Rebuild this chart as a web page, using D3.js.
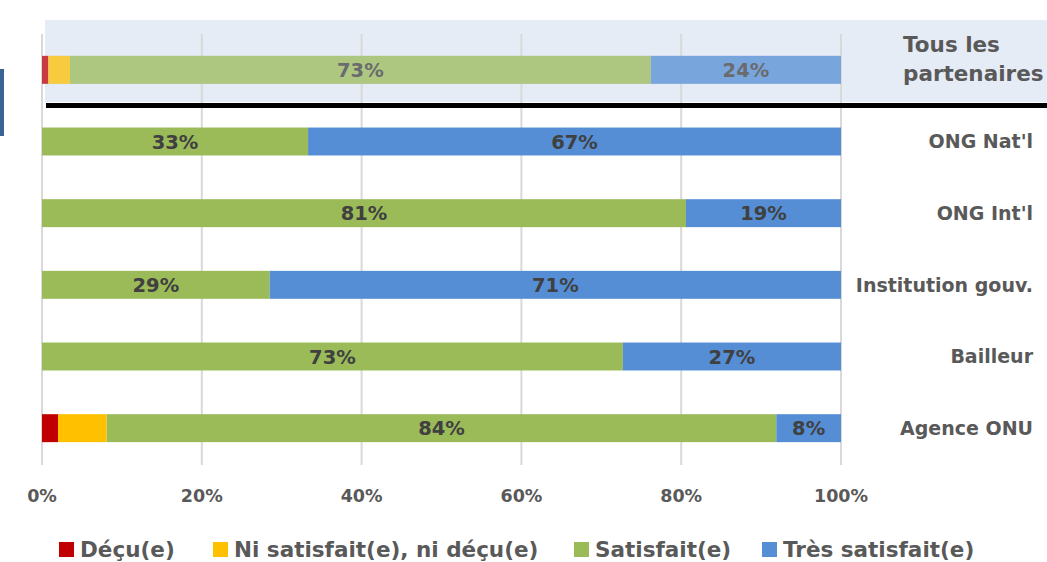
<!DOCTYPE html>
<html>
<head>
<meta charset="utf-8">
<script src="https://cdn.jsdelivr.net/npm/d3@7"></script>
<style>
  body { margin: 0; background: #fff; }
  text { font-family: "DejaVu Sans", sans-serif; font-weight: 700; }
</style>
</head>
<body>
<div class="chart"></div>
<script>
// data
var categories = ["Tous les partenaires", "ONG Nat'l", "ONG Int'l", "Institution gouv.", "Bailleur", "Agence ONU"];
var series_names = ["Déçu(e)", "Ni satisfait(e), ni déçu(e)", "Satisfait(e)", "Très satisfait(e)"];
var decu = [0.008, 0, 0, 0, 0, 0.020];
var neutre = [0.027, 0, 0, 0, 0, 0.061];
var satisfait = [0.727, 0.333, 0.806, 0.285, 0.727, 0.838];
var tres_satisfait = [0.238, 0.667, 0.194, 0.715, 0.273, 0.081];
var shown_labels = [null, null, ["73%", "33%", "81%", "29%", "73%", "84%"], ["24%", "67%", "19%", "71%", "27%", "8%"]];
var ticks = [0, 0.2, 0.4, 0.6, 0.8, 1];
var colors = ["#C00000", "#FFC000", "#9BBB59", "#558ED5"];

var width = 1047, height = 562;

var rows = categories.map((c, i) => ({
  cat: c, v: [decu[i], neutre[i], satisfait[i], tres_satisfait[i]]
}));

var svg = d3.select(".chart").append("svg")
  .attr("width", width)
  .attr("height", height);

var x_scale = d3.scaleLinear().domain([0, 1]).range([42, 841]);
var y_scale = d3.scaleBand()
  .domain(categories)
  .range([34, 464])
  .paddingInner(0.61)
  .paddingOuter(0.305);

// highlight box for the total row
svg.append("rect")
  .attr("x", 45).attr("y", 20)
  .attr("width", width - 45).attr("height", 82)
  .attr("fill", "#E6ECF6");

// small side marker
svg.append("rect")
  .attr("x", 0).attr("y", 69)
  .attr("width", 4).attr("height", 67)
  .attr("fill", "#3A6294");

// grid
svg.selectAll(".grid").data(ticks).enter().append("line")
  .attr("class", "grid")
  .attr("x1", d => x_scale(d)).attr("x2", d => x_scale(d))
  .attr("y1", 34).attr("y2", 465)
  .attr("stroke", "#D9D9D9").attr("stroke-width", 2);

// stacked bars
var segs = [];
rows.forEach((r, i) => {
  var acc = 0;
  r.v.forEach((v, k) => {
    segs.push({ cat: r.cat, k: k, x0: acc, x1: acc + v, row: i });
    acc += v;
  });
});

var g = svg.append("g");
g.selectAll("rect").data(segs.filter(d => d.x1 > d.x0)).enter().append("rect")
  .attr("x", d => x_scale(d.x0))
  .attr("y", d => y_scale(d.cat))
  .attr("width", d => x_scale(d.x1) - x_scale(d.x0))
  .attr("height", y_scale.bandwidth())
  .attr("fill", d => colors[d.k]);

// labels
g.selectAll(".lbl").data(segs.filter(d => shown_labels[d.k])).enter().append("text")
  .attr("class", "lbl")
  .attr("x", d => (x_scale(d.x0) + x_scale(d.x1)) / 2)
  .attr("y", d => y_scale(d.cat) + y_scale.bandwidth() / 2)
  .attr("dy", "0.36em")
  .attr("text-anchor", "middle")
  .attr("font-size", 19.5)
  .attr("fill", "#404040")
  .text(d => shown_labels[d.k][d.row]);

// fade the total row like the original
var top_cat = categories[0];
svg.append("rect")
  .attr("x", x_scale(0)).attr("y", y_scale(top_cat))
  .attr("width", x_scale(1) - x_scale(0)).attr("height", y_scale.bandwidth())
  .attr("fill", "#E6ECF6").attr("opacity", 0.25)
  .attr("stroke", "#D5DCE8").attr("stroke-width", 1);

// separator
svg.append("rect")
  .attr("x", 46).attr("y", 103)
  .attr("width", width - 46).attr("height", 5)
  .attr("fill", "#000");

// category labels
svg.selectAll(".cat").data(categories.slice(1)).enter().append("text")
  .attr("class", "cat")
  .attr("x", 1033)
  .attr("y", d => y_scale(d) + y_scale.bandwidth() / 2)
  .attr("dy", "0.36em")
  .attr("text-anchor", "end")
  .attr("font-size", 19)
  .attr("fill", "#595959")
  .text(d => d);

var top_lbl = svg.append("text")
  .attr("x", 903).attr("text-anchor", "start")
  .attr("font-size", 21.5).attr("fill", "#595959");
top_lbl.append("tspan").attr("x", 903).attr("y", 52).text("Tous les");
top_lbl.append("tspan").attr("x", 903).attr("y", 81).text("partenaires");

// x axis ticks
svg.selectAll(".tick").data(ticks).enter().append("text")
  .attr("class", "tick")
  .attr("x", d => x_scale(d))
  .attr("y", 502)
  .attr("text-anchor", "middle")
  .attr("font-size", 17.5)
  .attr("fill", "#595959")
  .text(d => d3.format(".0%")(d));

// legend
var legend_x = [59, 213, 574, 762];
var lg = svg.selectAll(".leg").data(series_names).enter().append("g")
  .attr("class", "leg")
  .attr("transform", (d, i) => "translate(" + legend_x[i] + ",0)");
lg.append("rect")
  .attr("x", 0).attr("y", 542)
  .attr("width", 15).attr("height", 15)
  .attr("fill", (d, i) => colors[i]);
lg.append("text")
  .attr("x", 21).attr("y", 557)
  .attr("font-size", 21.5)
  .attr("fill", "#595959")
  .text(d => d);
</script>
</body>
</html>
